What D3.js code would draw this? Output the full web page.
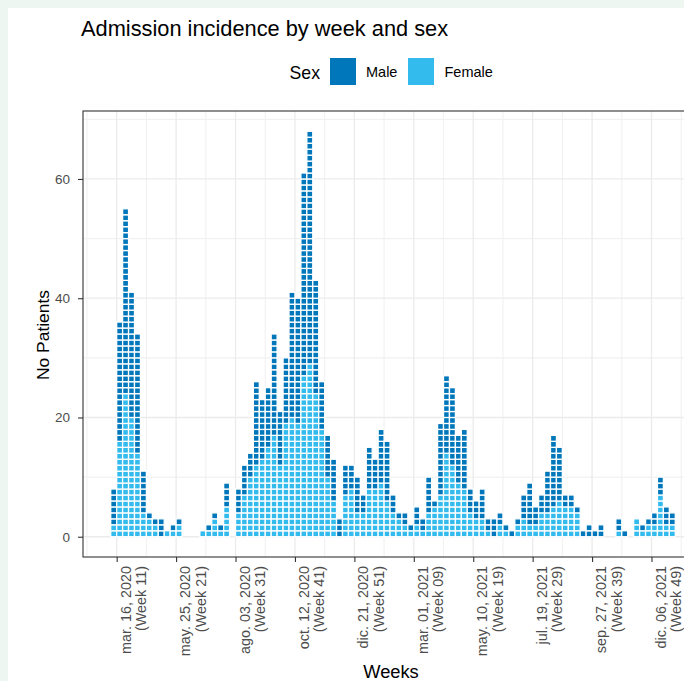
<!DOCTYPE html>
<html>
<head>
<meta charset="utf-8">
<script src="https://cdn.jsdelivr.net/npm/d3@7/dist/d3.min.js"></script>
<style>
  html, body { margin: 0; padding: 0; background: #EEF6F2; }
  svg { display: block; font-family: "Liberation Sans", Arial, sans-serif; }
</style>
</head>
<body>
<svg id="chart" width="684" height="681"></svg>
<script>
// Weekly admissions, one entry per week starting on firstWeek
const firstWeek = "2020-03-09";
const femaleCounts = [2,16,24,20,14,4,3,2,0,1,1,2,0,0,0,1,1,3,1,5,0,4,7,10,12,13,15,17,12,19,20,19,27,29,24,18,10,6,0,7,8,4,4,8,8,9,6,4,3,2,1,2,1,4,5,7,14,12,9,8,4,3,3,1,0,2,1,0,2,3,2,2,4,4,5,6,5,5,4,0,0,0,0,0,0,1,0,0,3,1,2,2,7,2,2];
const maleCounts   = [6,20,31,21,20,7,1,1,3,0,1,1,0,0,0,0,1,1,1,4,0,4,5,4,14,10,10,17,9,11,21,21,34,39,19,8,7,7,3,5,4,6,3,7,5,9,10,3,1,2,1,3,2,6,1,12,13,13,8,10,4,3,5,2,3,2,1,1,1,4,7,3,3,7,12,9,2,2,1,1,2,1,2,0,0,2,1,0,0,1,1,2,3,3,2];

// Axis ticks
const tickDates = ["2020-03-16","2020-05-25","2020-08-03","2020-10-12","2020-12-21","2021-03-01","2021-05-10","2021-07-19","2021-09-27","2021-12-06"];
const tickDateLabels = ["mar. 16, 2020","may. 25, 2020","ago. 03, 2020","oct. 12, 2020","dic. 21, 2020","mar. 01, 2021","may. 10, 2021","jul. 19, 2021","sep. 27, 2021","dic. 06, 2021"];
const tickWeekLabels = ["(Week 11)","(Week 21)","(Week 31)","(Week 41)","(Week 51)","(Week 09)","(Week 19)","(Week 29)","(Week 39)","(Week 49)"];
const yTicks = [0, 20, 40, 60];
const yMinorTicks = [10, 30, 50, 70];

const sexes = ["Male", "Female"];
const colors = { Male: "#0077BB", Female: "#33BBEE" };

const svg = d3.select("#chart");
const W = 684, H = 681;

// white plot background inside the pale frame
svg.append("rect").attr("x", 8).attr("y", 8).attr("width", W).attr("height", H).attr("fill", "#ffffff");

const panel = { left: 83, top: 111, right: 704, bottom: 557 };

const parse = d3.utcParse("%Y-%m-%d");
const start = parse(firstWeek);
const weeks = femaleCounts.map((_, i) => d3.utcDay.offset(start, 7 * i));
const lastEnd = d3.utcDay.offset(weeks[weeks.length - 1], 7);
const spanMs = lastEnd - start;
const pad = spanMs * 0.05;

const x = d3.scaleUtc()
  .domain([new Date(+start - pad), new Date(+lastEnd + pad)])
  .range([panel.left - 0.5, panel.right - 0.5]);

const y = d3.scaleLinear()
  .domain([-3.4, 71.4])
  .range([panel.bottom, panel.top]);

svg.append("clipPath").attr("id", "panelClip")
  .append("rect")
  .attr("x", panel.left).attr("y", panel.top)
  .attr("width", panel.right - panel.left).attr("height", panel.bottom - panel.top);

const g = svg.append("g").attr("clip-path", "url(#panelClip)");

// grid lines
const majorX = tickDates.map(parse);
const minorX = [d3.utcDay.offset(majorX[0], -35)].concat(majorX.map(d => d3.utcDay.offset(d, 35)));

g.selectAll(".ymin").data(yMinorTicks).join("line")
  .attr("x1", panel.left).attr("x2", panel.right)
  .attr("y1", d => y(d)).attr("y2", d => y(d))
  .attr("stroke", "#F1F1F1").attr("stroke-width", 1.1);
g.selectAll(".xmin").data(minorX).join("line")
  .attr("x1", d => x(d)).attr("x2", d => x(d))
  .attr("y1", panel.top).attr("y2", panel.bottom)
  .attr("stroke", "#F1F1F1").attr("stroke-width", 1.1);
g.selectAll(".ymaj").data(yTicks).join("line")
  .attr("x1", panel.left).attr("x2", panel.right)
  .attr("y1", d => y(d)).attr("y2", d => y(d))
  .attr("stroke", "#EBEBEB").attr("stroke-width", 1.3);
g.selectAll(".xmaj").data(majorX).join("line")
  .attr("x1", d => x(d)).attr("x2", d => x(d))
  .attr("y1", panel.top).attr("y2", panel.bottom)
  .attr("stroke", "#EBEBEB").attr("stroke-width", 1.3);

// one tile per patient, females stacked below males
const tiles = [];
weeks.forEach((wk, i) => {
  const end = d3.utcDay.offset(wk, 7);
  let level = 0;
  const stack = [["Female", femaleCounts[i]], ["Male", maleCounts[i]]];
  stack.forEach(([sex, n]) => {
    for (let k = 0; k < n; k++) {
      tiles.push({ x0: wk, x1: end, level: level, sex: sex });
      level++;
    }
  });
});

g.selectAll(".tile").data(tiles).join("rect")
  .attr("x", d => x(d.x0))
  .attr("width", d => x(d.x1) - x(d.x0))
  .attr("y", d => y(d.level + 1))
  .attr("height", d => y(d.level) - y(d.level + 1))
  .attr("fill", d => colors[d.sex])
  .attr("stroke", "#ffffff")
  .attr("stroke-width", 1.3);

// panel border
svg.append("rect")
  .attr("x", panel.left).attr("y", panel.top)
  .attr("width", panel.right - panel.left).attr("height", panel.bottom - panel.top)
  .attr("fill", "none").attr("stroke", "#333333").attr("stroke-width", 1.1);

// y axis
const yAxis = svg.append("g")
  .attr("transform", `translate(${panel.left},0)`)
  .call(d3.axisLeft(y).tickValues(yTicks).tickSize(5).tickPadding(8).tickFormat(d3.format("d")));
yAxis.select(".domain").remove();
yAxis.selectAll(".tick line").attr("stroke", "#333333").attr("stroke-width", 1.1);
yAxis.selectAll(".tick text")
  .attr("fill", "#4D4D4D")
  .style("font-size", "13.5px")
  .style("font-family", "'Liberation Sans', Arial, sans-serif");

// x axis ticks with two-line rotated labels
const xAxis = svg.append("g")
  .attr("transform", `translate(0,${panel.bottom})`)
  .call(d3.axisBottom(x).tickValues(majorX).tickSize(5).tickFormat(() => ""));
xAxis.select(".domain").remove();
xAxis.selectAll(".tick line").attr("stroke", "#333333").attr("stroke-width", 1.1);

const labels = svg.append("g").selectAll("g").data(majorX).join("g")
  .attr("transform", d => `translate(${x(d)},566) rotate(-90)`);
labels.append("text")
  .attr("x", 0).attr("y", 14)
  .attr("text-anchor", "end")
  .attr("fill", "#4D4D4D")
  .style("font-size", "14.4px")
  .text((d, i) => tickDateLabels[i]);
labels.append("text")
  .attr("x", 0).attr("y", 29.5)
  .attr("text-anchor", "end")
  .attr("fill", "#4D4D4D")
  .style("font-size", "14.4px")
  .text((d, i) => tickWeekLabels[i]);

// axis titles
svg.append("text")
  .attr("x", 391).attr("y", 678)
  .attr("text-anchor", "middle")
  .attr("fill", "#000")
  .style("font-size", "18.3px")
  .text("Weeks");

svg.append("text")
  .attr("transform", "translate(49,335) rotate(-90)")
  .attr("text-anchor", "middle")
  .attr("fill", "#000")
  .style("font-size", "17.4px")
  .text("No Patients");

// title
svg.append("text")
  .attr("x", 81).attr("y", 36)
  .attr("fill", "#000")
  .style("font-size", "21.8px")
  .text("Admission incidence by week and sex");

// legend
const legend = svg.append("g");
legend.append("text")
  .attr("x", 289.5).attr("y", 79)
  .attr("fill", "#000")
  .style("font-size", "17.7px")
  .text("Sex");
const legendX = [330, 408];
const legendTextX = [366, 444.5];
sexes.forEach((s, i) => {
  legend.append("rect")
    .attr("x", legendX[i]).attr("y", 58)
    .attr("width", 26).attr("height", 27)
    .attr("fill", colors[s]);
  legend.append("text")
    .attr("x", legendTextX[i]).attr("y", 77)
    .attr("fill", "#000")
    .style("font-size", "14.5px")
    .text(s);
});
</script>
</body>
</html>
